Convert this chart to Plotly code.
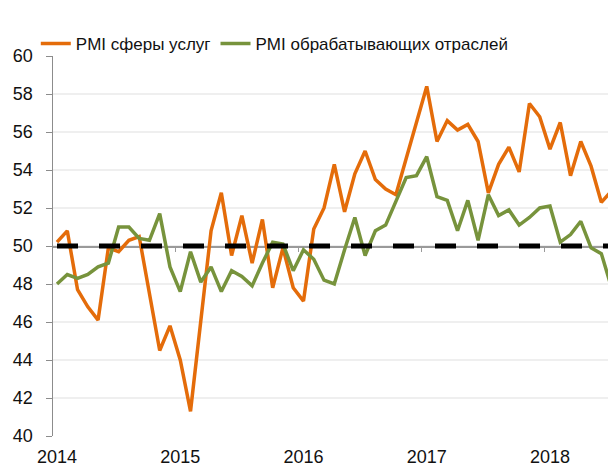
import plotly.graph_objects as go

years = ["2014", "2015", "2016", "2017", "2018"]
services = [50.2, 50.8, 47.7, 46.8, 46.1, 49.9, 49.7, 50.3, 50.5, 47.5,
            44.5, 45.8, 44.0, 41.3, 46.0, 50.8, 52.8, 49.5, 51.6, 49.1,
            51.4, 47.8, 49.9, 47.8, 47.1, 50.9, 52.0, 54.3, 51.8, 53.8,
            55.0, 53.5, 53.0, 52.7, 54.6, 56.5, 58.4, 55.5, 56.6, 56.1,
            56.4, 55.5, 52.8, 54.3, 55.2, 53.9, 57.5, 56.8, 55.1, 56.5,
            53.7, 55.5, 54.2, 52.3, 52.9]
manufacturing = [48.0, 48.5, 48.3, 48.5, 48.9, 49.1, 51.0, 51.0, 50.4, 50.3,
                 51.7, 48.9, 47.6, 49.7, 48.1, 48.9, 47.6, 48.7, 48.4, 47.9,
                 49.1, 50.2, 50.1, 48.7, 49.8, 49.3, 48.2, 48.0, 49.8, 51.5,
                 49.5, 50.8, 51.1, 52.4, 53.6, 53.7, 54.7, 52.6, 52.4, 50.8,
                 52.4, 50.3, 52.7, 51.6, 51.9, 51.1, 51.5, 52.0, 52.1, 50.2,
                 50.6, 51.3, 49.9, 49.6, 47.8]
threshold = 50
names = ["PMI сферы услуг", "PMI обрабатывающих отраслей"]

n = len(services)
x = list(range(n))
year_pos = [12 * k for k in range(len(years))]
year_bounds = [12 * k - 0.5 for k in range(1, len(years))]
xr = [-0.39, 53.65]

ORANGE = "#E46C0A"
GREEN = "#77933C"
FONT = "Liberation Sans, Arial, sans-serif"

fig = go.Figure()
fig.add_trace(go.Scatter(x=x, y=[threshold] * n, mode="lines",
                         line=dict(color="black", width=5, dash="21px,21px"),
                         showlegend=False, hoverinfo="skip"))
fig.add_trace(go.Scatter(x=x, y=services, mode="lines", name=names[0],
                         line=dict(color=ORANGE, width=3.5)))
fig.add_trace(go.Scatter(x=x, y=manufacturing, mode="lines", name=names[1],
                         line=dict(color=GREEN, width=3.5)))

fig.update_layout(
    width=608, height=467,
    margin=dict(l=53, r=0, t=56, b=31, autoexpand=False),
    paper_bgcolor="white", plot_bgcolor="white",
    font=dict(family=FONT, size=18, color="#111111"),
    showlegend=True,
    legend=dict(orientation="h", x=-0.031, xanchor="left", y=1.032, yanchor="middle",
                font=dict(size=17, color="#111111"), bgcolor="rgba(0,0,0,0)",
                itemwidth=30, tracegroupgap=0, traceorder="normal"),
    xaxis=dict(range=xr, tickmode="array", tickvals=year_pos, ticktext=years,
               showline=False, showgrid=False, zeroline=False, ticks="",
               tickfont=dict(size=18), ticklabelstandoff=8, automargin=False),
    xaxis2=dict(range=xr, overlaying="x", anchor="free", position=0.5, side="bottom",
                showline=True, linecolor="#9a9a9a", linewidth=1.5,
                tickmode="array", tickvals=year_bounds, ticks="outside",
                ticklen=4, tickcolor="#9a9a9a", showticklabels=False,
                showgrid=False, zeroline=False, layer="below traces", automargin=False),
    yaxis=dict(range=[40, 60], dtick=2, showline=True, linecolor="#8c8c8c",
               linewidth=1.5, ticks="outside", ticklen=6, tickcolor="#8c8c8c",
               gridcolor="#efefef", gridwidth=1.5, zeroline=False,
               tickfont=dict(size=18), ticklabelstandoff=9, automargin=False),
)
fig.data[0].update(xaxis="x2")
fig.write_html("out.html", config={"displayModeBar": False, "staticPlot": True},
               post_script="document.body.style.margin='0px';document.body.style.overflow='hidden';")
